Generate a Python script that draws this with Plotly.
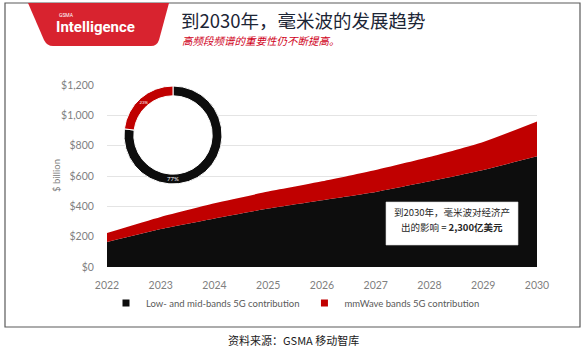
import plotly.graph_objects as go

# Economic contribution of 5G by band group, $ billion
years = [2022, 2023, 2024, 2025, 2026, 2027, 2028, 2029, 2030]
low_mid = [165, 250, 320, 385, 440, 495, 565, 640, 730]
mmwave = [59, 80, 100, 112, 125, 145, 160, 185, 230]

# Share of the 2030 contribution (%)
share_labels = ["Low- and mid-bands 5G contribution", "mmWave bands 5G contribution"]
share_values = [77, 23]

y_ticks = [0, 200, 400, 600, 800, 1000, 1200]
y_tick_labels = ["$0", "$200", "$400", "$600", "$800", "$1,000", "$1,200"]

BLACK = "#0d0d0d"
RED = "#c00000"
GRAY = "#7f7f7f"
CJK = "Noto Sans CJK SC"
LATIN = "Lato"

FIG_W, FIG_H = 583, 348
L, R, T, B = 107, 46, 85, 81
PW, PH = FIG_W - L - R, FIG_H - T - B


def px(x):
    return (x - L) / PW


def py(y):
    return (FIG_H - B - y) / PH


def note(x, y, text, **kw):
    d = dict(x=px(x), y=py(y), xref="paper", yref="paper", text=text,
             showarrow=False, xanchor="left", yanchor="middle")
    d.update(kw)
    return d


fig = go.Figure()

fig.add_trace(go.Scatter(
    x=years, y=low_mid, name=share_labels[0], stackgroup="eco",
    mode="lines", line=dict(width=0, shape="spline", smoothing=0.6),
    fillcolor=BLACK, showlegend=False, hoverinfo="x+y"))
fig.add_trace(go.Scatter(
    x=years, y=mmwave, name=share_labels[1], stackgroup="eco",
    mode="lines", line=dict(width=0, shape="spline", smoothing=0.6),
    fillcolor=RED, showlegend=False, hoverinfo="x+y"))

# legend entries as small squares
for name, col in zip(share_labels, [BLACK, RED]):
    fig.add_trace(go.Scatter(
        x=[None], y=[None], mode="markers", name=name,
        marker=dict(symbol="square", size=7, color=col)))

# donut of the 2030 split, on a white disc so gridlines don't show through
pie_dom = dict(x=[px(124), px(222)], y=[py(184), py(86)])
fig.add_trace(go.Pie(
    values=[1], domain=pie_dom, marker=dict(colors=["white"]),
    textinfo="none", hoverinfo="skip", showlegend=False, sort=False))
fig.add_trace(go.Pie(
    values=share_values, labels=share_labels, domain=pie_dom, hole=0.8,
    sort=False, direction="clockwise", rotation=0,
    marker=dict(colors=[BLACK, RED], line=dict(color="white", width=1)),
    textinfo="percent", textposition="inside",
    insidetextorientation="horizontal",
    textfont=dict(size=6, color="white", family=LATIN),
    showlegend=False))

shapes = [
    # outer frame
    dict(type="rect", xref="paper", yref="paper",
         x0=px(5), x1=px(580), y0=py(327), y1=py(3),
         line=dict(color="#5a5a5a", width=1.2), fillcolor="rgba(0,0,0,0)"),
    # red header tab
    dict(type="path", xref="paper", yref="paper",
         path=(f"M {px(28)},{py(3)} L {px(169)},{py(3)} L {px(159)},{py(40)} "
               f"Q {px(157)},{py(46)} {px(151)},{py(46)} L {px(53)},{py(46)} "
               f"Q {px(47)},{py(46)} {px(44)},{py(40)} Z"),
         fillcolor="#d8232f", line=dict(width=0)),
    # white call-out box over the area chart
    dict(type="rect", xref="paper", yref="paper",
         x0=px(386), x1=px(518), y0=py(245), y1=py(202),
         fillcolor="white", line=dict(color="#d9d9d9", width=0.6)),
]

annotations = [
    note(57, 15, "GSMA", font=dict(size=5, color="white", family="Roboto")),
    note(54, 27, "<b>Intelligence</b>",
         font=dict(size=15, color="white", family="Roboto")),
    note(179, 20, "到2030年，毫米波的发展趋势",
         font=dict(size=18.5, color="#1c2535", family=CJK)),
    note(180, 41, "<i>高频段频谱的重要性仍不断提高。</i>",
         font=dict(size=10.5, color="#d0021b", family=CJK)),
    note(56, 176, "$ billion", textangle=-90, xanchor="center",
         font=dict(size=9.5, color=GRAY, family=LATIN)),
    note(452, 212, "到2030年，毫米波对经济产", xanchor="center",
         font=dict(size=9.5, color="#262626", family=CJK)),
    note(452, 227, f"出的影响 = <b>{mmwave[-1] * 10:,}亿美元</b>", xanchor="center",
         font=dict(size=9.5, color="#262626", family=CJK)),
    note(293, 340, "资料来源：GSMA 移动智库", xanchor="center",
         font=dict(size=11, color="#1a1a1a", family=CJK)),
]

fig.update_layout(
    width=FIG_W, height=FIG_H,
    margin=dict(l=L, r=R, t=T, b=B),
    paper_bgcolor="white", plot_bgcolor="white",
    shapes=shapes, annotations=annotations,
    showlegend=True,
    legend=dict(orientation="h", traceorder="normal", x=px(106), y=py(303),
                xanchor="left", yanchor="middle",
                font=dict(size=9.5, color="#595959", family=LATIN),
                bgcolor="rgba(0,0,0,0)", itemclick=False),
    xaxis=dict(range=[2022, 2030], tickvals=years, showgrid=False,
               zeroline=False, showline=False,
               ticks="outside", ticklen=8, tickcolor="rgba(0,0,0,0)",
               tickfont=dict(size=10.5, color=GRAY, family=LATIN)),
    yaxis=dict(range=[0, 1200], tickvals=y_ticks, ticktext=y_tick_labels,
               showgrid=True, gridcolor="#e4e4e4",
               gridwidth=1, zeroline=False, showline=False,
               ticks="outside", ticklen=10, tickcolor="rgba(0,0,0,0)",
               tickfont=dict(size=10.5, color=GRAY, family=LATIN)),
)

fig.write_html("out.html")
